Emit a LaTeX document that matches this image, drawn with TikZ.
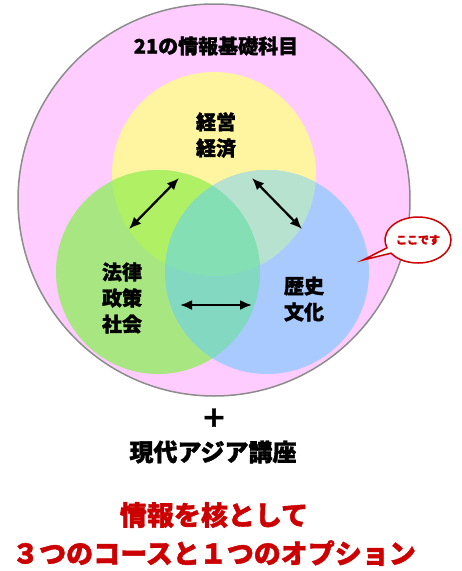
\documentclass[tikz,border=0pt]{standalone}
\usepackage{fontspec}
\setmainfont{Noto Sans CJK JP}[BoldFeatures={FakeBold=1.5}]
\usetikzlibrary{arrows.meta,shapes.callouts}
\definecolor{pinkc}{HTML}{FFCCFF}
\definecolor{yel}{HTML}{FFF5A0}
\definecolor{grn}{HTML}{A8E682}
\definecolor{blu}{HTML}{A8CAFF}
\definecolor{yg}{HTML}{B0F064}
\definecolor{yb}{HTML}{B8E2D0}
\definecolor{gb}{HTML}{82D8C0}
\definecolor{ygb}{HTML}{84E0B4}
\definecolor{redc}{HTML}{CC0000}
\tikzset{
  lbl/.style={font=\bfseries\fontsize{20}{26}\selectfont, align=center, inner sep=0pt},
  redlbl/.style={font=\bfseries\fontsize{27}{30}\selectfont, text=redc, inner sep=0pt},
  dbl/.style={{Latex[length=12pt,width=10pt]}-{Latex[length=12pt,width=10pt]}, line width=2.2pt}
}
\begin{document}
\begin{tikzpicture}[x=1pt,y=-1pt]
\useasboundingbox (0,0) rectangle (462,571);
\def\Y{(214,174) circle (102)}
\def\G{(158,272) circle (102)}
\def\B{(267,272) circle (102)}
\draw[fill=pinkc, draw=black!45, line width=1.5pt] (214,200) circle (196);
\fill[yel] \Y;
\fill[grn] \G;
\fill[blu] \B;
\begin{scope}\clip \Y; \fill[yg] \G; \end{scope}
\begin{scope}\clip \Y; \fill[yb] \B; \end{scope}
\begin{scope}\clip \G; \fill[gb] \B; \end{scope}
\begin{scope}\clip \Y; \clip \G; \fill[ygb] \B; \end{scope}
\node[lbl] (title) at (216,46) {21の情報基礎科目};
\node[lbl] (econ) at (216,135) {経営\\経済};
\node[lbl] (law) at (122,298) {法律\\政策\\社会};
\node[lbl] (hist) at (304,299) {歴史\\文化};
\coordinate (a1) at (129,229); \coordinate (a2) at (179,178);
\coordinate (b1) at (252,178); \coordinate (b2) at (302,229);
\coordinate (c1) at (180,305); \coordinate (c2) at (252,305);
\draw[dbl] (a1) -- (a2);
\draw[dbl] (b1) -- (b2);
\draw[dbl] (c1) -- (c2);
\coordinate (tip) at (363,260);
\node[ellipse callout, draw=redc, fill=white, line width=1.5pt, minimum width=66pt, minimum height=46pt, callout absolute pointer={(tip)}, font=\bfseries\fontsize{11}{12}\selectfont, text=redc, inner sep=0pt] (call) at (418,240) {ここです};
\node[lbl, font=\bfseries\fontsize{26}{26}\selectfont] (plus) at (214,418) {＋};
\node[lbl, font=\bfseries\fontsize{24}{26}\selectfont] (asia) at (213,452) {現代アジア講座};
\node[redlbl] (r1) at (214,515) {情報を核として};
\node[redlbl] (r2) at (214,553) {３つのコースと１つのオプション};
\end{tikzpicture}
\end{document}
